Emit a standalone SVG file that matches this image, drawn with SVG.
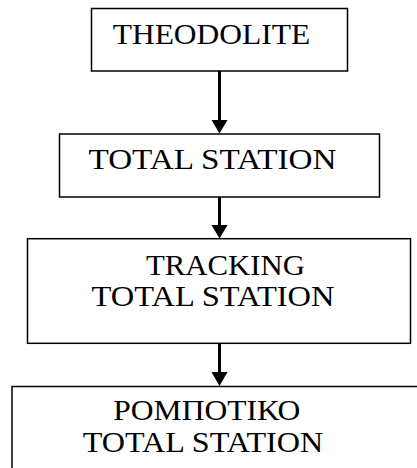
<svg xmlns="http://www.w3.org/2000/svg" width="417" height="468" viewBox="0 0 417 468">
<defs>
<style>
.box{fill:#fff;stroke:#000;stroke-width:1.5}
.c{stroke:#000;stroke-width:3;fill:none}
.h{fill:#000}
.t{font-family:'Liberation Serif','Times New Roman',serif;font-size:28.5px;fill:#000}
</style>
</defs>
<rect width="417" height="468" fill="#fff"/>
<g id="connectors">
<line class="c" x1="219.5" y1="71" x2="219.5" y2="121"/>
<polygon class="h" points="211.5,120 227.5,120 219.5,133.5"/>
<line class="c" x1="219.5" y1="197" x2="219.5" y2="226"/>
<polygon class="h" points="211.5,225 227.5,225 219.5,238.5"/>
<line class="c" x1="219.5" y1="343" x2="219.5" y2="373"/>
<polygon class="h" points="211.5,372 227.5,372 219.5,386"/>
</g>
<g id="theodolite">
<rect class="box" x="91.5" y="8.5" width="256" height="62.5"/>
<text class="t" x="112.7" y="43.5" textLength="197.5" lengthAdjust="spacingAndGlyphs">THEODOLITE</text>
</g>
<g id="total-station">
<rect class="box" x="59.5" y="134" width="320" height="63"/>
<text class="t" x="88.5" y="169" textLength="248" lengthAdjust="spacingAndGlyphs">TOTAL STATION</text>
</g>
<g id="tracking-total-station">
<rect class="box" x="27.5" y="238.7" width="383" height="104.6"/>
<text class="t" x="146" y="275" textLength="159" lengthAdjust="spacingAndGlyphs">TRACKING</text>
<text class="t" x="91.5" y="305.5" textLength="243" lengthAdjust="spacingAndGlyphs">TOTAL STATION</text>
</g>
<g id="robotic-total-station">
<path class="box" d="M12,470 V386.5 H417"/>
<text class="t" x="113.3" y="420" textLength="187" lengthAdjust="spacingAndGlyphs">ΡΟΜΠΟΤΙΚΟ</text>
<text class="t" x="82.7" y="452" textLength="240.5" lengthAdjust="spacingAndGlyphs">TOTAL STATION</text>
</g>
</svg>
